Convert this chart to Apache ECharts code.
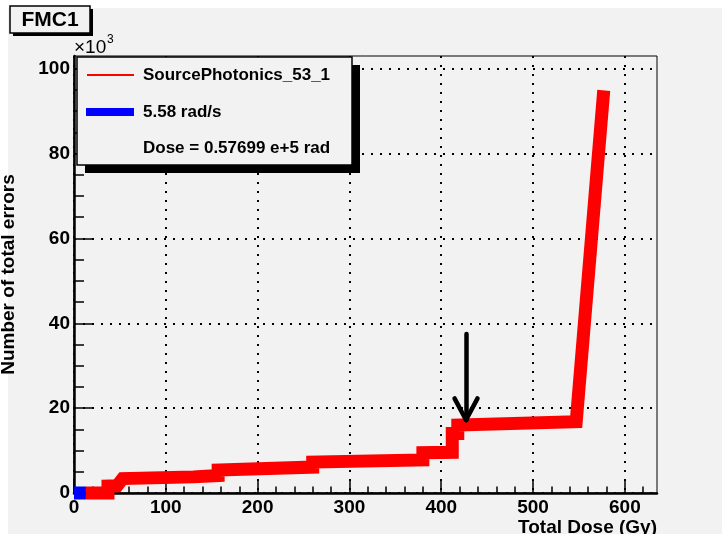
<!DOCTYPE html>
<html>
<head>
<meta charset="utf-8">
<script src="https://cdn.jsdelivr.net/npm/echarts@6/dist/echarts.min.js"></script>
<style>
  html, body { margin: 0; padding: 0; background: #ffffff; }
  #chart { width: 724px; height: 534px; }
</style>
</head>
<body>
<div id="chart"></div>
<script>
// Datos de la curva (dosis en Gy, errores en miles)
var doseRed = [13, 37, 37, 47, 53, 130, 130, 157, 157, 260, 260, 380, 380, 412, 412, 418, 418, 547, 577];
var errorsRed = [0, 0, 1.65, 1.7, 3.4, 3.8, 4.0, 4.1, 5.4, 6.1, 7.3, 7.8, 9.5, 9.6, 14.0, 14.0, 16.0, 16.8, 94.9];
var doseBlue = [0, 13];
var errorsBlue = [0, 0];

// Marcas de los ejes
var xTicks = [0, 100, 200, 300, 400, 500, 600];
var yTicks = [0, 20, 40, 60, 80, 100];

// Flecha (coordenadas de datos)
var arrowX = 427;
var arrowTop = 37.5;
var arrowTip = 17.2;
var arrowHeadX = [414.5, 439.5];
var arrowHeadY = 22.3;

var fuente = "'Liberation Sans', Arial, Helvetica, sans-serif";

function pares(xs, ys) {
  return xs.map(function (x, i) { return [x, ys[i]]; });
}

var dom = document.getElementById("chart");
var myChart = echarts.init(dom, null, { renderer: "canvas" });

var option = {
  backgroundColor: "#ffffff",
  animation: false,
  grid: {
    left: 74,
    right: 67,
    top: 56,
    bottom: 41,
    outerBoundsMode: "none",
    containLabel: false,
    show: true,
    backgroundColor: "transparent",
    borderColor: "#000",
    borderWidth: 1
  },
  xAxis: {
    type: "value",
    min: 0,
    max: 635,
    interval: 100,
    name: "Total Dose (Gy)",
    nameLocation: "end",
    nameGap: 0,
    nameTextStyle: {
      color: "#000",
      fontFamily: fuente,
      fontWeight: "bold",
      fontSize: 19,
      align: "right",
      verticalAlign: "top",
      padding: [25, 0, 0, 0]
    },
    axisLine: { show: true, lineStyle: { color: "#000", width: 2.5 } },
    axisTick: { show: true, inside: true, length: 13, customValues: xTicks, lineStyle: { color: "#000", width: 1.5 } },
    minorTick: { show: true, splitNumber: 5, length: 6.5, lineStyle: { color: "#000", width: 1.5 } },
    axisLabel: {
      customValues: xTicks,
      margin: 5,
      color: "#000",
      fontFamily: fuente,
      fontWeight: "bold",
      fontSize: 19
    },
    splitLine: { show: true, lineStyle: { color: "#000", width: 2, type: [2, 7] } }
  },
  yAxis: {
    type: "value",
    min: 0,
    max: 103,
    interval: 20,
    name: "Number of total errors",
    nameLocation: "middle",
    nameGap: 56,
    nameTextStyle: {
      color: "#000",
      fontFamily: fuente,
      fontWeight: "bold",
      fontSize: 19
    },
    axisLine: { show: true, lineStyle: { color: "#000", width: 2.5 } },
    axisTick: { show: true, inside: true, length: 20, customValues: yTicks, lineStyle: { color: "#000", width: 1.5 } },
    minorTick: { show: true, splitNumber: 4, length: 10, lineStyle: { color: "#000", width: 1.5 } },
    axisLabel: {
      customValues: yTicks,
      margin: 4,
      color: "#000",
      fontFamily: fuente,
      fontWeight: "bold",
      fontSize: 19
    },
    splitLine: { show: true, lineStyle: { color: "#000", width: 2, type: [2, 7] } }
  },
  series: [
    {
      name: "SourcePhotonics_53_1",
      type: "line",
      data: pares(doseRed, errorsRed),
      symbol: "none",
      clip: false,
      z: 3,
      lineStyle: { color: "#ff0000", width: 13, cap: "butt", join: "miter" },
      markLine: {
        silent: true,
        symbol: "none",
        label: { show: false },
        lineStyle: { color: "#000", width: 4.5, type: "solid", cap: "round" },
        data: [
          [{ coord: [arrowX, arrowTop] }, { coord: [arrowX, arrowTip] }],
          [{ coord: [arrowHeadX[0], arrowHeadY] }, { coord: [arrowX, arrowTip] }],
          [{ coord: [arrowHeadX[1], arrowHeadY] }, { coord: [arrowX, arrowTip] }]
        ]
      }
    },
    {
      name: "5.58 rad/s",
      type: "line",
      data: pares(doseBlue, errorsBlue),
      symbol: "none",
      clip: false,
      z: 4,
      lineStyle: { color: "#0000ff", width: 13, cap: "butt", join: "miter" }
    }
  ],
  graphic: [
    // Fondo gris del lienzo
    { type: "rect", z: -10, silent: true, shape: { x: 8, y: 8, width: 714, height: 530 }, style: { fill: "#f2f2f2" } },
    // Título
    { type: "rect", z: 100, shape: { x: 13, y: 9, width: 80, height: 27 }, style: { fill: "#000" } },
    { type: "rect", z: 101, shape: { x: 10, y: 6, width: 80, height: 27 }, style: { fill: "#f2f2f2", stroke: "#000", lineWidth: 1.5 } },
    { type: "text", z: 102, style: { x: 50, y: 20, text: "FMC1", fill: "#000", font: "bold 21px " + fuente, align: "center", verticalAlign: "middle" } },
    // Multiplicador del eje Y
    { type: "text", z: 102, style: { x: 74, y: 48, text: "×10", fill: "#000", font: "19px " + fuente, align: "left", verticalAlign: "middle" } },
    { type: "text", z: 102, style: { x: 107, y: 40, text: "3", fill: "#000", font: "12px " + fuente, align: "left", verticalAlign: "middle" } },
    // Leyenda
    { type: "rect", z: 100, shape: { x: 85, y: 65, width: 275, height: 108 }, style: { fill: "#000" } },
    { type: "rect", z: 101, shape: { x: 77, y: 57, width: 275, height: 108 }, style: { fill: "#f2f2f2", stroke: "#000", lineWidth: 1.5 } },
    { type: "line", z: 102, shape: { x1: 87, y1: 75, x2: 134, y2: 75 }, style: { stroke: "#ff0000", lineWidth: 2 } },
    { type: "text", z: 102, style: { x: 143, y: 75, text: "SourcePhotonics_53_1", fill: "#000", font: "bold 17px " + fuente, verticalAlign: "middle" } },
    { type: "rect", z: 102, shape: { x: 86, y: 108, width: 48, height: 8 }, style: { fill: "#0000ff" } },
    { type: "text", z: 102, style: { x: 143, y: 112, text: "5.58 rad/s", fill: "#000", font: "bold 17px " + fuente, verticalAlign: "middle" } },
    { type: "text", z: 102, style: { x: 143, y: 148, text: "Dose = 0.57699 e+5 rad", fill: "#000", font: "bold 17px " + fuente, verticalAlign: "middle" } }
  ]
};

if (option && typeof option === "object") {
  myChart.setOption(option, true);
}
window.addEventListener("resize", myChart.resize);
</script>
</body>
</html>
